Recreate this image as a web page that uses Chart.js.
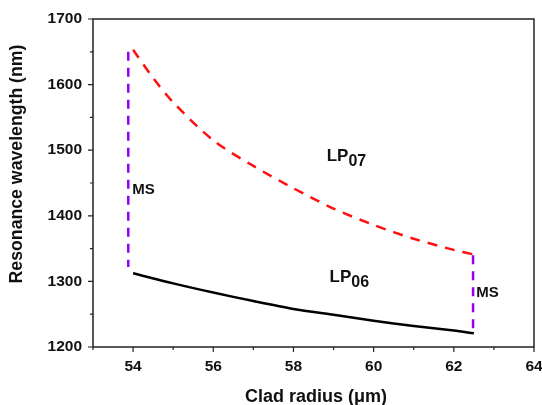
<!DOCTYPE html>
<html>
<head>
<meta charset="utf-8">
<script src="https://cdn.jsdelivr.net/npm/chart.js@4.4.1/dist/chart.umd.min.js"></script>
<style>
html,body{margin:0;padding:0;background:#fff;}
#wrap{width:542px;height:405px;position:relative;}
</style>
</head>
<body>
<div id="wrap"><canvas id="c" width="542" height="405"></canvas></div>
<script>
// ---- data ----
const lp06X = [54, 55, 56, 57, 58, 59, 60, 61, 62, 62.5];
const lp06Y = [1312.5, 1297, 1283, 1270, 1258, 1249, 1240, 1232, 1225, 1221];
const lp07X = [54, 54.5, 55, 56, 57, 58, 59, 60, 61, 62, 62.5];
const lp07Y = [1653, 1610, 1573, 1515, 1476, 1442, 1411, 1386, 1365, 1348, 1341];
const msLeftX = [53.88, 53.88];
const msLeftY = [1650, 1322];
const msRightX = [62.48, 62.48];
const msRightY = [1340, 1226];
const xTicks = [54, 56, 58, 60, 62, 64];
const xMinor = [53, 55, 57, 59, 61, 63];
const yTicks = [1200, 1300, 1400, 1500, 1600, 1700];
const yMinor = [1250, 1350, 1450, 1550, 1650];
const labels = [
  {main: 'LP', sub: '07', x: 58.83, y: 1484},
  {main: 'LP', sub: '06', x: 58.9, y: 1299},
  {main: 'MS', sub: '', x: 53.98, y: 1433, small: true},
  {main: 'MS', sub: '', x: 62.56, y: 1276, small: true}
];

const pts = (xs, ys) => xs.map((x, i) => ({x: x, y: ys[i]}));
const FONT = "'Liberation Sans', Arial, sans-serif";

const decor = {
  id: 'decor',
  afterDraw(chart) {
    const ctx = chart.ctx;
    const a = chart.chartArea;
    const xs = chart.scales.x, ys = chart.scales.y;
    ctx.save();
    ctx.strokeStyle = '#222';
    ctx.lineWidth = 1.5;
    ctx.strokeRect(a.left, a.top, a.right - a.left, a.bottom - a.top);
    ctx.lineWidth = 1.2;
    ctx.beginPath();
    xTicks.forEach(v => { const p = xs.getPixelForValue(v); ctx.moveTo(p, a.bottom); ctx.lineTo(p, a.bottom + 5); });
    xMinor.forEach(v => { const p = xs.getPixelForValue(v); ctx.moveTo(p, a.bottom); ctx.lineTo(p, a.bottom + 3); });
    yTicks.forEach(v => { const p = ys.getPixelForValue(v); ctx.moveTo(a.left, p); ctx.lineTo(a.left - 5, p); });
    yMinor.forEach(v => { const p = ys.getPixelForValue(v); ctx.moveTo(a.left, p); ctx.lineTo(a.left - 3, p); });
    ctx.stroke();

    ctx.fillStyle = '#111';
    ctx.textBaseline = 'alphabetic';
    labels.forEach(l => {
      const px = xs.getPixelForValue(l.x), py = ys.getPixelForValue(l.y);
      ctx.textAlign = 'left';
      ctx.font = 'bold ' + (l.small ? 15 : 17) + 'px ' + FONT;
      ctx.fillText(l.main, px, py);
      if (l.sub) {
        const w = ctx.measureText(l.main).width;
        ctx.font = 'bold 16px ' + FONT;
        ctx.fillText(l.sub, px + w, py + 5);
      }
    });

    // axis titles
    ctx.font = 'bold 18px ' + FONT;
    ctx.textAlign = 'center';
    ctx.fillText('Clad radius (\u03bcm)', 316, 402);
    ctx.font = 'bold 17.7px ' + FONT;
    ctx.save();
    ctx.translate(22, 164);
    ctx.rotate(-Math.PI / 2);
    ctx.fillText('Resonance wavelength (nm)', 0, 0);
    ctx.restore();
    ctx.restore();
  }
};

new Chart(document.getElementById('c'), {
  type: 'scatter',
  data: {
    datasets: [
      {data: pts(lp06X, lp06Y), showLine: true, borderColor: '#000', borderWidth: 2.5, pointRadius: 0, tension: 0.3},
      {data: pts(lp07X, lp07Y), showLine: true, borderColor: '#ff1010', borderWidth: 2.5, borderDash: [10, 8], pointRadius: 0, tension: 0.3},
      {data: pts(msLeftX, msLeftY), showLine: true, borderColor: '#8f00ff', borderWidth: 2.5, borderDash: [9, 7], pointRadius: 0},
      {data: pts(msRightX, msRightY), showLine: true, borderColor: '#8f00ff', borderWidth: 2.5, borderDash: [9, 7], pointRadius: 0}
    ]
  },
  options: {
    responsive: false,
    animation: false,
    layout: {padding: {left: 0, top: 19, right: 8, bottom: 0}},
    plugins: {legend: {display: false}, tooltip: {enabled: false}},
    scales: {
      x: {
        type: 'linear', min: 53, max: 64,
        afterBuildTicks: s => { s.ticks = xTicks.map(v => ({value: v})); },
        afterFit: s => { s.height = 58; s.paddingLeft = 0; s.paddingRight = 0; },
        grid: {display: false}, border: {display: false},
        ticks: {padding: 2, color: '#111', font: {family: FONT, size: 15.5, weight: 'bold'}, maxRotation: 0, autoSkip: false,
                callback: v => String(v)}
      },
      y: {
        type: 'linear', min: 1200, max: 1700,
        afterBuildTicks: s => { s.ticks = yTicks.map(v => ({value: v})); },
        afterFit: s => { s.width = 93; s.paddingTop = 0; s.paddingBottom = 0; },
        grid: {display: false}, border: {display: false},
        ticks: {padding: 3, color: '#111', font: {family: FONT, size: 15.5, weight: 'bold'}, autoSkip: false,
                callback: v => String(v)}
      }
    }
  },
  plugins: [decor]
});
</script>
</body>
</html>
